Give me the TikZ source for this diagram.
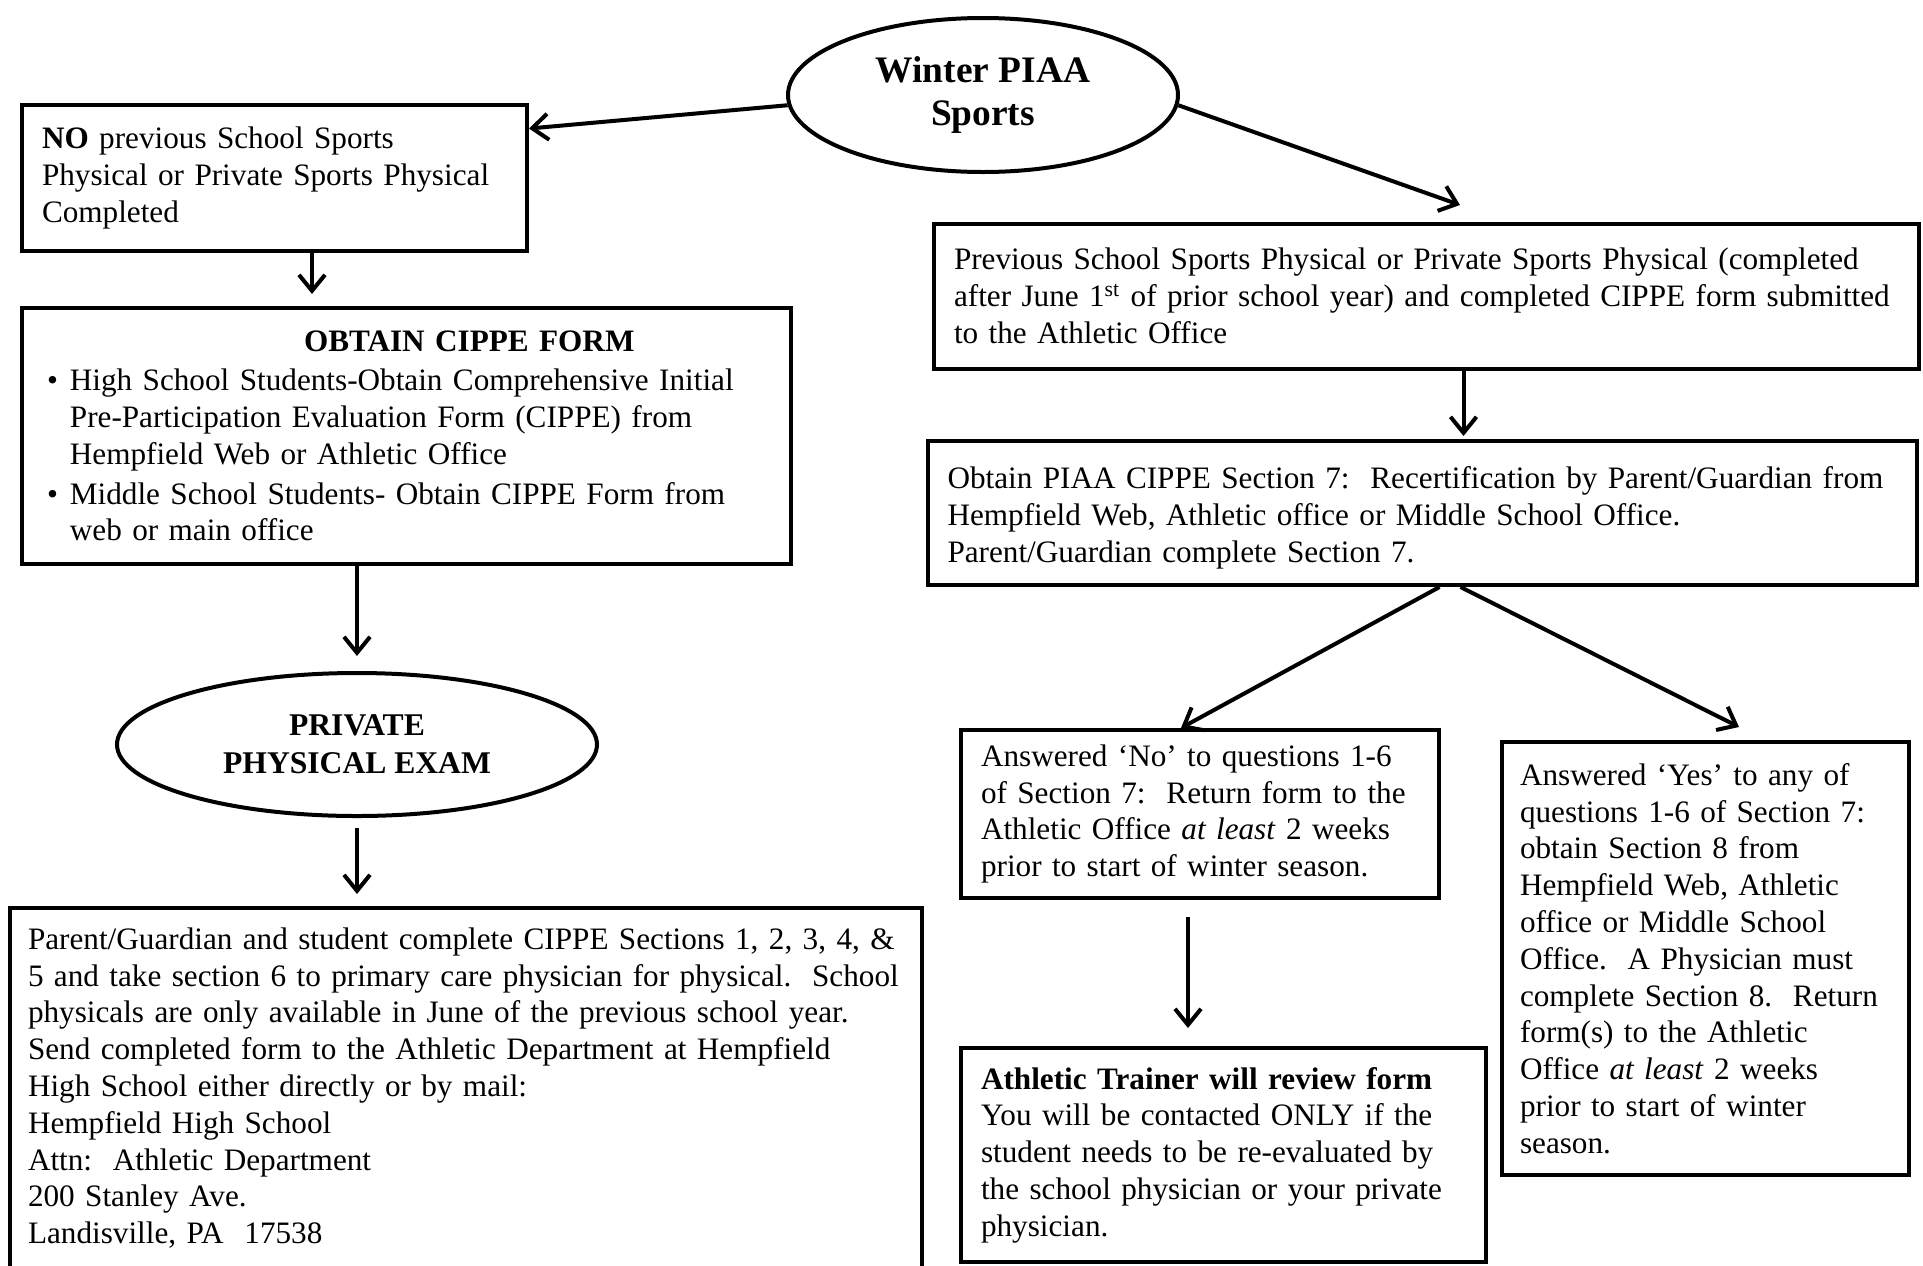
\documentclass[tikz,border=0pt]{standalone}
\usepackage{fontspec}
\setmainfont{Liberation Serif}
\usepackage{tikz}
\usetikzlibrary{arrows.meta,shapes.geometric}
\tikzset{node distance=10em, auto}
\tikzset{
	box/.style={draw, line width=2pt, rectangle, inner xsep=10pt, inner ysep=0pt, align=left, font=\fontsize{15.6}{18.4}\selectfont},
	oval/.style={draw, line width=2pt, ellipse, inner sep=0pt, align=center, font=\bfseries\fontsize{15.8}{19}\selectfont},
	arr/.style={line width=2pt, -{Straight Barb[length=8pt,width=13pt]}}
}

\begin{document}
\begin{tikzpicture}[x=0.5pt, y=-0.5pt, auto]
			\useasboundingbox (0,0) rectangle (1923,1265);
			\node (W) [oval, minimum width=195pt, minimum height=77pt, font=\bfseries\fontsize{18.7}{21.5}\selectfont] at (983,95) {Winter PIAA\\ Sports};
			\node (N) [box, text width=232.5pt, minimum height=73pt] at (274.5,178) {\textbf{NO} previous School Sports\\ Physical or Private Sports Physical\\ Completed};
			\node (F) [box, text width=364.5pt, minimum height=128pt] at (406.5,436) {\rule{0pt}{16pt}\hspace*{131pt}\textbf{OBTAIN CIPPE FORM}\\[1pt]
				\begin{tabular}[t]{@{\hspace{2.5pt}}l@{\hspace{6pt}}l@{}}
				\textbullet & High School Students-Obtain Comprehensive Initial\\
				 & Pre-Participation Evaluation Form (CIPPE) from\\
				 & Hempfield Web or Athletic Office\\[1.5pt]
				\textbullet & Middle School Students- Obtain CIPPE Form from\\
				 & web or main office
				\end{tabular}};
			\node (E) [oval, minimum width=240pt, minimum height=71.5pt] at (357,744.5) {PRIVATE\\ PHYSICAL EXAM};
			\node (M) [box, inner xsep=9pt, text width=438pt, minimum height=180pt] at (466,1088) {Parent/Guardian and student complete CIPPE Sections 1, 2, 3, 4, \&\\ 5 and take section 6 to primary care physician for physical.\ \ School\\ physicals are only available in June of the previous school year.\\ Send completed form to the Athletic Department at Hempfield\\ High School either directly or by mail:\\ Hempfield High School\\ Attn:\ \ Athletic Department\\ 200 Stanley Ave.\\ Landisville, PA\ \ 17538};
			%
			\node (P) [box, text width=472.5pt, minimum height=72.5pt] at (1426.5,296) {Previous School Sports Physical or Private Sports Physical (completed\\ after June 1\textsuperscript{st} of prior school year) and completed CIPPE form submitted\\ to the Athletic Office};
			\node (R) [box, text width=474.5pt, minimum height=72pt] at (1422,513) {\rule{0pt}{16pt}Obtain PIAA CIPPE Section 7:\ \ Recertification by Parent/Guardian from\\ Hempfield Web, Athletic office or Middle School Office.\\ Parent/Guardian complete Section 7.};
			\node (A) [box, text width=219pt, minimum height=84pt] at (1200,814) {Answered `No' to questions 1-6\\ of Section 7:\ \ Return form to the\\ Athletic Office \textit{at least} 2 weeks\\ prior to start of winter season.};
			\node (T) [box, text width=242.5pt, minimum height=107pt] at (1223.5,1155) {\textbf{Athletic Trainer will review form}\\ You will be contacted ONLY if the\\ student needs to be re-evaluated by\\ the school physician or your private\\ physician.};
			\node (Y) [box, inner xsep=9pt, text width=185.5pt, minimum height=216.5pt] at (1705.5,958.5) {Answered `Yes' to any of\\ questions 1-6 of Section 7:\\ obtain Section 8 from\\ Hempfield Web, Athletic\\ office or Middle School\\ Office.\ \ A Physician must\\ complete Section 8.\ \ Return\\ form(s) to the Athletic\\ Office \textit{at least} 2 weeks\\ prior to start of winter\\ season.};
			\coordinate (Pin) at (1460,205);
			\coordinate (Yin) at (1739,727);
			%
			\draw[arr]		(W.183)		to (N.11);
			\draw[arr]		(W.-3)		to (Pin);
			\draw[arr, shorten >=6pt]		([xshift=18.75pt]N.south)		to ([xshift=18.75pt]N.south |- F.north);
			\draw[arr, shorten >=7.5pt]		(F.south -| E)		to (E.north);
			\draw[arr, shorten <=5pt, shorten >=6pt]		(E.south)		to (E.south |- M.north);
			\draw[arr, shorten >=1.5pt]		([xshift=18.5pt]P.south)		to ([xshift=18.5pt]P.south |- R.north);
			\draw[arr]		([xshift=8.75pt]R.south)		to ([xshift=-9.5pt]A.north);
			\draw[arr]		([xshift=19.25pt]R.south)		to (Yin);
			\draw[arr, shorten <=8.5pt, shorten >=9pt]		([xshift=-6pt]A.south)		to ([xshift=-6pt]A.south |- T.north);
\end{tikzpicture}
\end{document}
